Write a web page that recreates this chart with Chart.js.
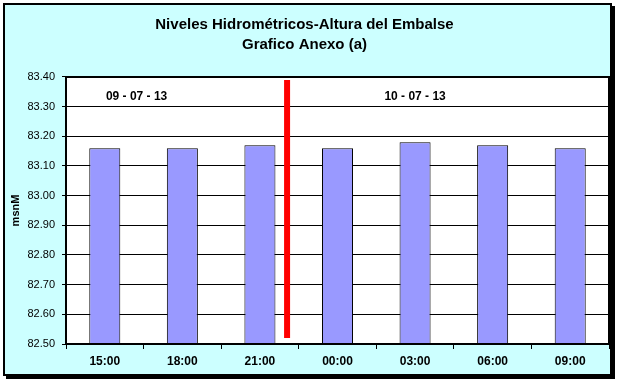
<!DOCTYPE html>
<html>
<head>
<meta charset="utf-8">
<script src="https://cdn.jsdelivr.net/npm/chart.js@4.4.1/dist/chart.umd.min.js"></script>
<style>
html,body{margin:0;padding:0;background:#fff;}
#wrap{width:619px;height:383px;position:relative;}
</style>
</head>
<body>
<div id="wrap"><canvas id="c" width="619" height="383"></canvas></div>
<script>
const categories = ["15:00","18:00","21:00","00:00","03:00","06:00","09:00"];
const levels = [83.16, 83.16, 83.17, 83.16, 83.18, 83.17, 83.16];
const titleLines = ["Niveles Hidrométricos-Altura del Embalse", "Grafico Anexo (a)"];
const yAxisTitle = "msnM";
const yMin = 82.5, yMax = 83.4, yStep = 0.1;
const dayChangeX = [2.35, 2.35];
const dayChangeY = [83.39, 82.52];
const dateLabels = ["09 - 07 - 13", "10 - 07 - 13"];
const dateLabelX = [0.41, 4.0];
const dateLabelY = [83.335, 83.335];

const framePlugin = {
  id: 'frame',
  beforeDraw(chart) {
    const ctx = chart.ctx;
    const a = chart.chartArea;
    ctx.save();
    ctx.fillStyle = '#ffffff';
    ctx.fillRect(0, 0, chart.width, chart.height);
    ctx.fillStyle = '#000000';
    ctx.fillRect(6, 6, 609, 373);
    ctx.fillStyle = '#CCFFFF';
    ctx.fillRect(3, 3, 609, 373);
    ctx.strokeStyle = '#000000';
    ctx.lineWidth = 2;
    ctx.strokeRect(4, 4, 607, 371);
    ctx.fillStyle = '#ffffff';
    ctx.fillRect(a.left, a.top, a.right - a.left, a.bottom - a.top);
    ctx.restore();
  },
  afterDraw(chart) {
    const ctx = chart.ctx;
    const a = chart.chartArea;
    ctx.save();
    ctx.strokeStyle = '#000000';
    ctx.lineWidth = 2;
    ctx.strokeRect(a.left, a.top, a.right - a.left, a.bottom - a.top);
    ctx.restore();
  },
  afterDatasetsDraw(chart) {
    const ctx = chart.ctx;
    const xs = chart.scales.x2, ys = chart.scales.y;
    ctx.save();
    ctx.fillStyle = '#000000';
    ctx.font = 'bold 12px "Liberation Sans", Arial, sans-serif';
    ctx.textAlign = 'center';
    ctx.textBaseline = 'middle';
    dateLabels.forEach((t, i) => {
      ctx.fillText(t, xs.getPixelForValue(dateLabelX[i]), ys.getPixelForValue(dateLabelY[i]));
    });
    ctx.restore();
  }
};

new Chart(document.getElementById('c'), {
  type: 'bar',
  data: {
    labels: categories,
    datasets: [
      {
        type: 'bar',
        data: levels,
        backgroundColor: '#9999FF',
        borderColor: '#000000',
        borderWidth: 1,
        barPercentage: 0.4,
        categoryPercentage: 1.0,
        grouped: false,
        base: yMin,
        order: 2
      },
      {
        type: 'line',
        xAxisID: 'x2',
        data: dayChangeX.map((x, i) => ({x: x, y: dayChangeY[i]})),
        borderColor: '#FF0000',
        borderWidth: 6,
        pointRadius: 0,
        fill: false,
        order: 1
      }
    ]
  },
  options: {
    responsive: false,
    animation: false,
    devicePixelRatio: 1,
    layout: {padding: {left: 0, right: 10, top: 0, bottom: 0}},
    plugins: {
      legend: {display: false},
      tooltip: {enabled: false},
      title: {
        display: true,
        text: titleLines,
        color: '#000000',
        font: {family: '"Liberation Sans", Arial, sans-serif', size: 15, weight: 'bold', lineHeight: 1.3333},
        padding: {top: 15, bottom: 22}
      }
    },
    scales: {
      x: {
        type: 'category',
        offset: true,
        grid: {display: true, drawOnChartArea: false, drawTicks: true, tickLength: 5, color: '#000000', offset: true},
        border: {display: true, color: '#000000', width: 2},
        ticks: {color: '#000000', font: {family: '"Liberation Sans", Arial, sans-serif', size: 12, weight: 'bold'}, padding: 5, maxRotation: 0},
        afterFit(s) { s.height = 39; }
      },
      x2: {
        type: 'linear',
        display: false,
        offset: false,
        grid: {offset: false},
        min: -0.5,
        max: 6.5
      },
      y: {
        type: 'linear',
        min: yMin,
        max: yMax,
        ticks: {
          stepSize: yStep,
          color: '#000000',
          font: {family: '"Liberation Sans", Arial, sans-serif', size: 11},
          padding: 7,
          callback: v => Number(v).toFixed(2)
        },
        grid: {color: '#000000', lineWidth: 1, drawTicks: true, tickLength: 4},
        border: {display: true, color: '#000000', width: 2},
        title: {
          display: true,
          text: yAxisTitle,
          color: '#000000',
          font: {family: '"Liberation Sans", Arial, sans-serif', size: 11, weight: 'bold'},
          padding: {top: 9, bottom: 0}
        },
        afterFit(s) { s.width = 66; }
      }
    }
  },
  plugins: [framePlugin]
});
</script>
</body>
</html>
